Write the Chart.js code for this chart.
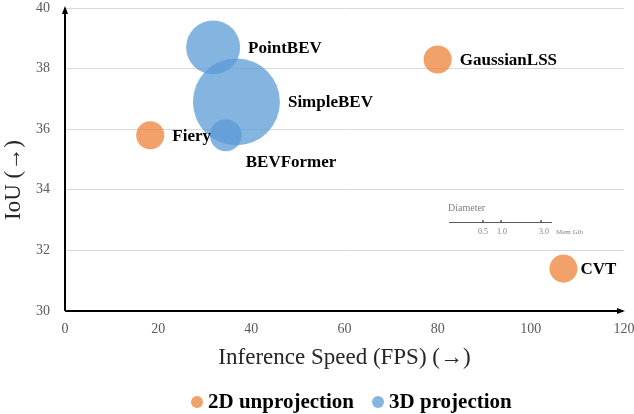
<!DOCTYPE html>
<html>
<head>
<meta charset="utf-8">
<script src="https://cdn.jsdelivr.net/npm/chart.js@4"></script>
<style>
  html, body { margin: 0; padding: 0; background: #fff; }
  #wrap { width: 634px; height: 414px; }
</style>
</head>
<body>
<div id="wrap"><canvas id="myChart" width="634" height="414"></canvas></div>
<script>
// data
const names2D = ['Fiery', 'GaussianLSS', 'CVT'];
const fps2D = [18.3, 80, 107];
const iou2D = [35.8, 38.3, 31.4];
const mem2D = [0.97, 0.97, 0.97];

const names3D = ['PointBEV', 'SimpleBEV', 'BEVFormer'];
const fps3D = [31.8, 36.8, 34.5];
const iou3D = [38.7, 36.9, 35.8];
const mem3D = [1.86, 3.0, 1.1];

const xTicks = [0, 20, 40, 60, 80, 100, 120];
const yTicks = [30, 32, 34, 36, 38, 40];
const memTicks = ['0.5', '1.0', '3.0'];

const pxPerGiB = 14.5; // bubble radius per GiB
const serif = '"Liberation Serif", "Times New Roman", serif';

// label placement: where the name sits relative to its bubble
const labelSide = { BEVFormer: 'below' };
const labelGap = { CVT: 3 };

function points(xs, ys, mem, names) {
    return xs.map((x, i) => ({ x: x, y: ys[i], r: mem[i] * pxPerGiB, name: names[i] }));
}

const decor = {
    id: 'decor',
    afterDatasetsDraw(chart) {
        const ctx = chart.ctx;
        const a = chart.chartArea;
        ctx.save();

        // axes with arrows
        ctx.strokeStyle = '#000';
        ctx.fillStyle = '#000';
        ctx.lineWidth = 2;
        ctx.beginPath();
        ctx.moveTo(a.left, a.bottom);
        ctx.lineTo(a.left, a.top + 2);
        ctx.moveTo(a.left, a.bottom);
        ctx.lineTo(a.right - 2, a.bottom);
        ctx.stroke();
        ctx.beginPath();
        ctx.moveTo(a.left, a.top - 2);
        ctx.lineTo(a.left - 3, a.top + 6);
        ctx.lineTo(a.left + 3, a.top + 6);
        ctx.closePath();
        ctx.fill();
        ctx.beginPath();
        ctx.moveTo(a.right + 1, a.bottom);
        ctx.lineTo(a.right - 7, a.bottom - 3);
        ctx.lineTo(a.right - 7, a.bottom + 3);
        ctx.closePath();
        ctx.fill();

        // y axis title (sits a bit below the middle in the original)
        ctx.save();
        ctx.translate(14, 180);
        ctx.rotate(-Math.PI / 2);
        ctx.font = '23px ' + serif;
        ctx.fillStyle = '#262626';
        ctx.textAlign = 'center';
        ctx.textBaseline = 'middle';
        ctx.fillText('IoU (→)', 0, 0);
        ctx.restore();

        // point names
        ctx.font = 'bold 17px ' + serif;
        ctx.fillStyle = '#000';
        ctx.textBaseline = 'middle';
        ctx.textAlign = 'left';
        chart.data.datasets.forEach((ds, di) => {
            const meta = chart.getDatasetMeta(di);
            meta.data.forEach((el, i) => {
                const p = ds.data[i];
                if (labelSide[p.name] === 'below') {
                    ctx.fillText(p.name, el.x + 20, el.y + p.r + 11);
                } else {
                    const gap = labelGap[p.name] !== undefined ? labelGap[p.name] : 8;
                    ctx.fillText(p.name, el.x + p.r + gap, el.y + 1);
                }
            });
        });

        // diameter key
        const kx = a.left + 384, ky = a.top + 214;
        ctx.fillStyle = '#7f7f7f';
        ctx.font = '10px ' + serif;
        ctx.textBaseline = 'alphabetic';
        ctx.fillText('Diameter', kx - 1, ky - 11);
        ctx.strokeStyle = '#595959';
        ctx.lineWidth = 1;
        ctx.beginPath();
        ctx.moveTo(kx, ky + 0.5);
        ctx.lineTo(kx + 103, ky + 0.5);
        ctx.stroke();
        const tickX = [34, 52, 92];
        const labX = [34, 53, 95];
        ctx.font = '8px ' + serif;
        ctx.textAlign = 'center';
        tickX.forEach((t, i) => {
            ctx.fillRect(kx + t - 1, ky - 2, 2, 2);
            ctx.fillText(memTicks[i], kx + labX[i], ky + 12);
        });
        ctx.textAlign = 'left';
        ctx.font = '7px ' + serif;
        ctx.fillText('Mem Gib', kx + 107, ky + 12);

        // series legend
        ctx.font = 'bold 21px ' + serif;
        ctx.textBaseline = 'middle';
        let lx = 191;
        const ly = 402;
        chart.data.datasets.forEach((ds) => {
            ctx.fillStyle = ds.backgroundColor;
            ctx.beginPath();
            ctx.arc(lx + 6, ly, 6, 0, Math.PI * 2);
            ctx.fill();
            ctx.fillStyle = '#000';
            ctx.fillText(ds.label, lx + 17, ly + 1);
            lx += 17 + ctx.measureText(ds.label).width + 18;
        });
        ctx.restore();
    }
};

new Chart(document.getElementById('myChart'), {
    type: 'bubble',
    data: {
        datasets: [
            {
                label: '2D unprojection',
                data: points(fps2D, iou2D, mem2D, names2D),
                backgroundColor: 'rgba(237, 125, 49, 0.72)',
                borderWidth: 0,
                hoverBorderWidth: 0
            },
            {
                label: '3D projection',
                data: points(fps3D, iou3D, mem3D, names3D),
                backgroundColor: 'rgba(91, 155, 213, 0.75)',
                borderWidth: 0,
                hoverBorderWidth: 0
            }
        ]
    },
    options: {
        responsive: false,
        animation: false,
        events: [],
        layout: { autoPadding: false, padding: { top: 8, right: 10, bottom: 40, left: 0 } },
        plugins: {
            legend: { display: false },
            tooltip: { enabled: false }
        },
        scales: {
            x: {
                type: 'linear',
                min: 0,
                max: 120,
                afterBuildTicks: (s) => { s.ticks = xTicks.map(v => ({ value: v })); },
                afterFit: (s) => { s.height = 63; s.paddingLeft = 0; s.paddingRight = 0; },
                grid: { display: false, drawTicks: false },
                border: { display: false },
                ticks: {
                    padding: 10,
                    color: '#595959',
                    font: { family: serif, size: 14 }
                },
                title: {
                    display: true,
                    text: 'Inference Speed (FPS) (→)',
                    color: '#262626',
                    font: { family: serif, size: 23 },
                    padding: { top: 0, bottom: 2 }
                }
            },
            y: {
                type: 'linear',
                min: 30,
                max: 40,
                afterBuildTicks: (s) => { s.ticks = yTicks.map(v => ({ value: v })); },
                afterFit: (s) => { s.width = 65; s.paddingTop = 0; s.paddingBottom = 0; },
                grid: {
                    drawTicks: false,
                    color: (c) => c.tick && c.tick.value === 30 ? 'rgba(0,0,0,0)' : '#d9d9d9',
                    lineWidth: 1
                },
                border: { display: false },
                ticks: {
                    padding: 15,
                    color: '#595959',
                    font: { family: serif, size: 14 }
                },
                title: { display: false }
            }
        }
    },
    plugins: [decor]
});
</script>
</body>
</html>
